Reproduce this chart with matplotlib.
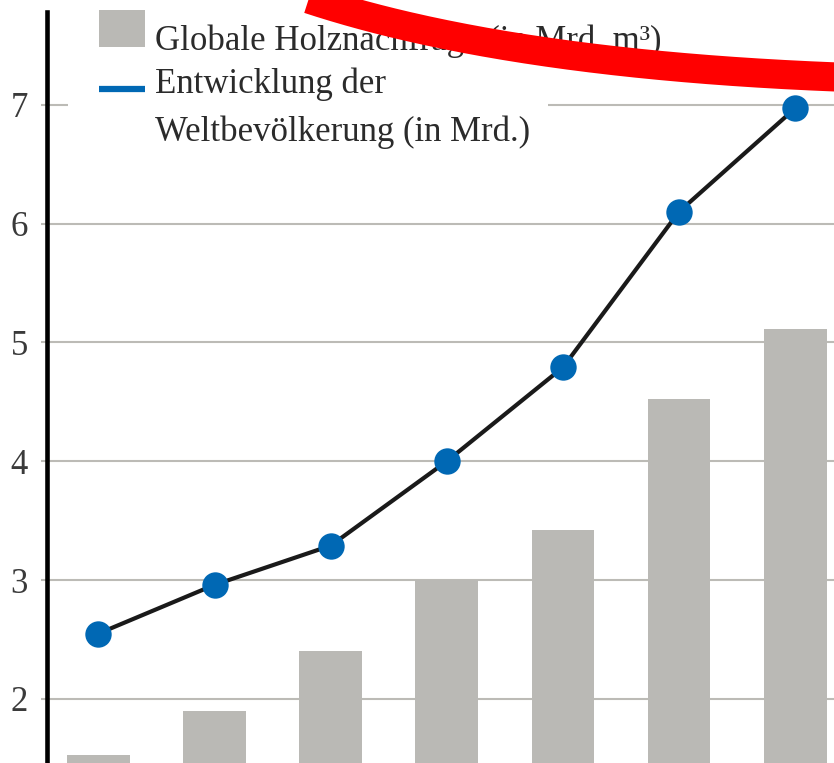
import numpy as np
import matplotlib.pyplot as plt
from matplotlib.patches import Rectangle
from matplotlib.lines import Line2D

# data (x positions are just the category index)
positions = [0, 1, 2, 3, 4, 5, 6]
wood_demand = [1.53, 1.90, 2.40, 3.00, 3.42, 4.52, 5.11]   # Mrd. m³
population = [2.55, 2.96, 3.29, 4.00, 4.79, 6.10, 6.97]    # Mrd.
yticks = [2, 3, 4, 5, 6, 7]

label_bars = "Globale Holznachfrage (in Mrd. m³)"
label_line = ["Entwicklung der", "Weltbevölkerung (in Mrd.)"]

W, H = 834, 763
font = "Liberation Serif"
text_col = "#2b2b2b"
grey_bar = "#bab9b5"
grey_grid = "#bcbbb6"
blue = "#0068b4"

fig = plt.figure(figsize=(W / 100, H / 100), dpi=100)
ax = fig.add_axes([46.5 / W, 0, 1 - 46.5 / W, 751 / H])

ax.bar(positions, wood_demand, width=0.54, color=grey_bar, zorder=2)
ax.plot(positions, population, color="#1a1a1a", lw=3, zorder=3)
ax.plot(positions, population, ls="none", marker="o", ms=19,
        mfc=blue, mec="none", zorder=4)

ax.set_xlim(-0.447, 6.334)
ax.set_ylim(1.461, 7.78)
ax.set_xticks([])
ax.set_yticks(yticks)
ax.set_yticklabels([str(v) for v in yticks], fontsize=25, family=font, color="#3a3a3a")
ax.tick_params(axis="y", length=4, width=1.5, color=grey_grid, pad=9.5)
ax.grid(axis="y", color=grey_grid, lw=1.5)
ax.set_axisbelow(True)

for s in ["top", "right", "bottom"]:
    ax.spines[s].set_visible(False)
ax.spines["left"].set_linewidth(3.3)
ax.spines["left"].set_color("black")


def fx(px):
    return px / W


def fy(py):
    return 1 - py / H


# legend (white box hides the gridline behind it)
fig.add_artist(Rectangle((fx(68), fy(150)), fx(548) - fx(68), 150 / H,
                         transform=fig.transFigure, fc="white", ec="none", zorder=5))
fig.add_artist(Rectangle((fx(99), fy(47)), 46 / W, 37 / H,
                         transform=fig.transFigure, fc=grey_bar, ec="none", zorder=6))
fig.add_artist(Line2D([fx(99), fx(145)], [fy(89), fy(89)], transform=fig.transFigure,
                      color=blue, lw=4.5, solid_capstyle="butt", zorder=6))
fig.text(fx(155), fy(50), label_bars, fontsize=25, family=font, color=text_col,
         va="baseline", zorder=7)
fig.text(fx(155), fy(93), label_line[0], fontsize=25, family=font, color=text_col,
         va="baseline", zorder=7)
fig.text(fx(155), fy(141), label_line[1], fontsize=25, family=font, color=text_col,
         va="baseline", zorder=7)

# red hand-drawn arc over the top
t = np.linspace(0, 1, 200)
p0, p1, p2 = np.array([220, -36]), np.array([440, 68]), np.array([900, 79])
arc = ((1 - t) ** 2)[:, None] * p0 + (2 * t * (1 - t))[:, None] * p1 + (t ** 2)[:, None] * p2
fig.add_artist(Line2D(fx(arc[:, 0]), fy(arc[:, 1]), transform=fig.transFigure,
                      color="#ff0000", lw=21, solid_capstyle="butt", zorder=10))

fig.savefig("out.png", dpi=100)
